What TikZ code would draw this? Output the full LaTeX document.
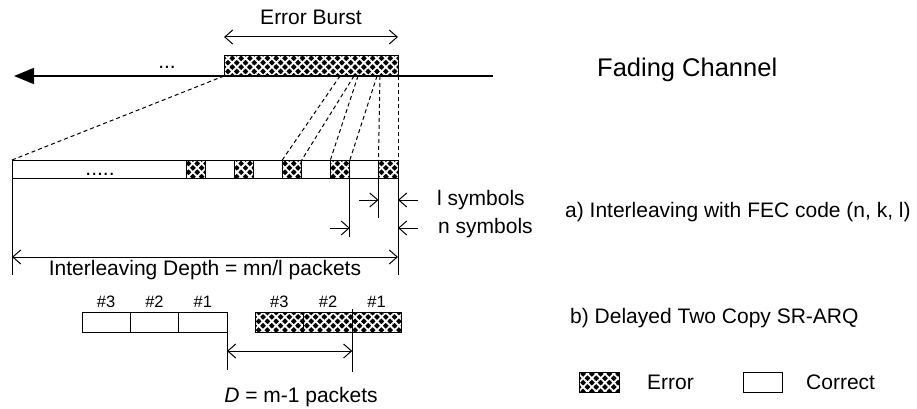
\documentclass[tikz,border=0pt]{standalone}
\usepackage{fontspec}
\setmainfont{Liberation Sans}
\usetikzlibrary{arrows.meta,patterns.meta}
\begin{document}
\begin{tikzpicture}[x=1pt,y=-1pt,
  txt/.style={inner sep=0pt, font=\fontsize{21}{25}\selectfont},
  big/.style={inner sep=0pt, font=\fontsize{25.5}{30}\selectfont},
  small/.style={inner sep=0pt, font=\fontsize{16.5}{19}\selectfont},
  hatched/.style={draw, line width=1pt, inner sep=0pt, outer sep=0pt,
    preaction={fill=black},
    pattern={Hatch[angle=45,distance=6.2pt,line width=1.8pt]}, pattern color=white},
  plain/.style={draw, line width=1pt, fill=white, inner sep=0pt, outer sep=0pt},
  dim/.style={line width=1pt, -{Straight Barb[length=8pt,width=14pt]}},
  ddim/.style={line width=1pt, {Straight Barb[length=8pt,width=14pt]}-{Straight Barb[length=8pt,width=14pt]}},
  lead/.style={line width=1pt, dash pattern=on 4pt off 3pt},
  tick/.style={line width=1pt}]
\useasboundingbox (0,0) rectangle (917,409);

% ---------- channel ----------
\coordinate (chL) at (14,76);
\coordinate (chR) at (493,76);
\draw[line width=1.6pt, -{Triangle[length=20pt,width=16pt]}] (chR) -- (chL);
\node[hatched, minimum width=174pt, minimum height=20pt, anchor=south west] (burst) at (224,76) {};
\node[txt, anchor=base] (dots1) at (167,69) {...};
\coordinate (ebL) at (224,37);
\coordinate (ebR) at (398,37);
\draw[ddim] (ebL) -- (ebR);
\node[txt, anchor=base] (ebt) at (311,25) {Error Burst};
\node[big, anchor=base west] (fading) at (597,77) {Fading Channel};

% ---------- interleaved bar ----------
\node[plain, minimum width=386pt, minimum height=18pt, anchor=north west] (bar) at (12,160) {};
\foreach \i in {0,...,4}
  \node[hatched, minimum width=19.5pt, minimum height=18pt, anchor=north west] (e\i) at ({186+48.125*\i},160) {};
\node[txt, anchor=base] (dots2) at (100,175) {.....};

% dashed leads
\coordinate (b1) at (340,76);
\coordinate (b2) at (354,76);
\coordinate (b3) at (358,76);
\coordinate (b4) at (377,76);
\coordinate (b5) at (380,76);
\draw[lead] (burst.south west) -- (bar.north west);
\draw[lead] (b1) -- (e2.north west);
\draw[lead] (b2) -- (e2.north east);
\draw[lead] (b3) -- (e3.north west);
\draw[lead] (b4) -- (e3.north east);
\draw[lead] (b5) -- (e4.north west);
\draw[lead] (burst.south east) -- (e4.north east);

% dimension lines
\draw[tick] (e3.south east) -- ++(0,59);
\draw[tick] (e4.south west) -- ++(0,40);
\draw[tick] (bar.south east) -- ++(0,97);
\draw[tick] (bar.south west) -- ++(0,97);

\coordinate (l1s) at (359,200);   \coordinate (l1e) at (378.5,200);
\coordinate (l2s) at (418,200);   \coordinate (l2e) at (398,200);
\coordinate (n1s) at (330,228);   \coordinate (n1e) at (349.9,228);
\coordinate (n2s) at (418,228);   \coordinate (n2e) at (398,228);
\draw[dim] (l1s) -- (l1e);
\draw[dim] (l2s) -- (l2e);
\draw[dim] (n1s) -- (n1e);
\draw[dim] (n2s) -- (n2e);
\node[txt, anchor=base west] (lsym) at (437,205) {l symbols};
\node[txt, anchor=base west] (nsym) at (438,233) {n symbols};

\coordinate (idL) at (12,257);
\coordinate (idR) at (398,257);
\draw[ddim] (idL) -- (idR);
\node[txt, anchor=base] (idt) at (205,275) {Interleaving Depth = mn/l packets};

\node[txt, anchor=base west] (capa) at (565,217) {a) Interleaving with FEC code (n, k, l)};

% ---------- SR-ARQ ----------
\node[plain, minimum width=48.33pt, minimum height=20pt, anchor=north west] (w3) at (82,312) {};
\node[plain, minimum width=48.33pt, minimum height=20pt, anchor=north west] (w2) at (130.33,312) {};
\node[plain, minimum width=48.33pt, minimum height=20pt, anchor=north west] (w1) at (178.67,312) {};
\node[hatched, minimum width=48.67pt, minimum height=20pt, anchor=north west] (h3) at (255,312) {};
\node[hatched, minimum width=48.67pt, minimum height=20pt, anchor=north west] (h2) at (303.67,312) {};
\node[hatched, minimum width=48.67pt, minimum height=20pt, anchor=north west] (h1) at (352.33,312) {};
\foreach \b/\t in {w3/\#3, w2/\#2, w1/\#1, h3/\#3, h2/\#2, h1/\#1}
  \node[small, anchor=base] at ([yshift=5pt]\b.north) {\t};

\draw[tick] ([yshift=3pt]h1.north west) -- ([yshift=-40pt]h1.south west);
\draw[tick] (w1.south east) -- ([yshift=-38pt]w1.south east);
\draw[ddim] ([yshift=-19pt]w1.south east) -- ([yshift=-19pt]h1.south west);
\node[txt, anchor=base] (dt) at (301,402) {\textit{D} = m-1 packets};

\node[txt, anchor=base west] (capb) at (570,323) {b) Delayed Two Copy SR-ARQ};

% ---------- legend ----------
\node[hatched, minimum width=40pt, minimum height=20pt, anchor=north west] (legE) at (579,372) {};
\node[txt, anchor=base west] (legEt) at (647,389) {Error};
\node[plain, minimum width=39pt, minimum height=20pt, anchor=north west] (legC) at (743,372) {};
\node[txt, anchor=base west] (legCt) at (806,389) {Correct};
\end{tikzpicture}
\end{document}
